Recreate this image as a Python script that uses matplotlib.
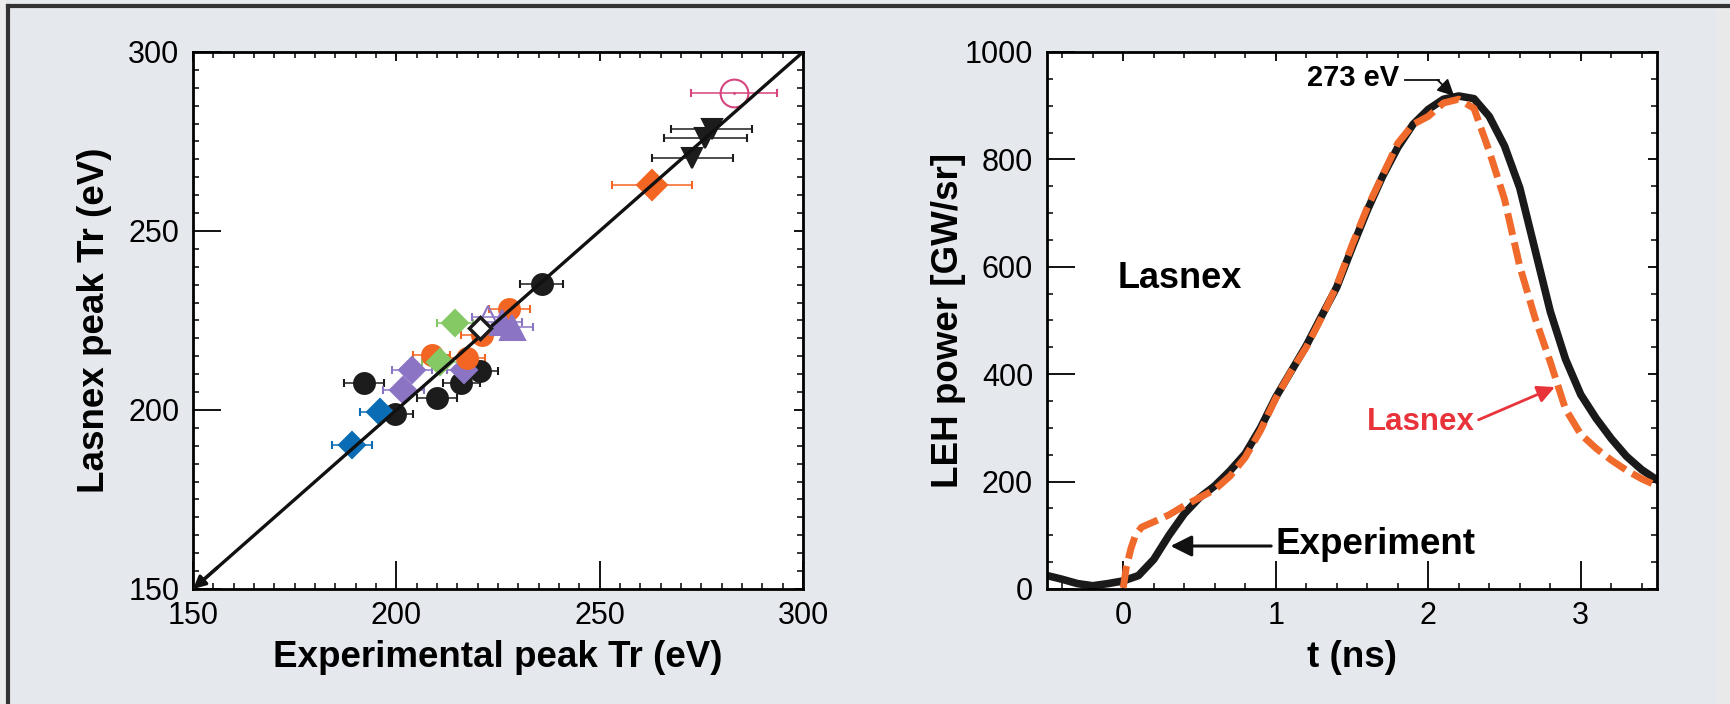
import matplotlib.pyplot as plt
from matplotlib.ticker import MultipleLocator
from matplotlib.lines import Line2D
from matplotlib.patches import Rectangle

plt.rcParams['font.family'] = ['Liberation Sans', 'DejaVu Sans']

# ---- left panel: peak Tr, experiment vs Lasnex (x error bars) ----
blk_circ_x = [235.7, 220.5, 216.0, 192.0, 210.0, 199.7]
blk_circ_y = [235.2, 211.0, 207.5, 207.5, 203.3, 199.0]
blk_circ_e = [5.2, 4.5, 4.5, 5.0, 4.9, 4.3]

blue_dia_x = [196.0, 189.0]
blue_dia_y = [199.5, 190.2]
blue_dia_e = [5.0, 4.9]

purp_dia_x = [203.8, 216.5, 201.7]
purp_dia_y = [211.2, 211.2, 205.6]
purp_dia_e = [5.0, 4.0, 5.0]

orng_circ_x = [227.8, 221.0, 208.7, 217.3]
orng_circ_y = [228.1, 221.0, 215.4, 214.4]
orng_circ_e = [5.0, 5.0, 4.5, 4.5]

grn_dia_x = [214.4, 210.7]
grn_dia_y = [224.2, 213.5]
grn_dia_e = [4.5, 4.5]

purp_tri_x = [226.0, 228.5]
purp_tri_y = [224.5, 223.3]
purp_tri_e = [5.0, 5.0]

purp_open_tri_x = [222.5]
purp_open_tri_y = [226.0]
purp_open_tri_e = [4.0]

open_dia_x = [220.6]
open_dia_y = [222.8]

orng_dia_x = [262.8]
orng_dia_y = [262.8]
orng_dia_e = [9.8]

blk_tri_x = [277.5, 276.0, 272.8]
blk_tri_y = [278.5, 276.0, 270.5]
blk_tri_e = [10.0, 10.2, 10.0]

pink_x = [283.0]
pink_y = [288.5]
pink_e = [10.5]

unity = [150, 300]

# ---- right panel: LEH power vs time ----
exp_t = [-0.5, -0.4, -0.3, -0.2, -0.1, 0.0, 0.1, 0.2, 0.3, 0.4, 0.5, 0.6, 0.7,
         0.8, 0.9, 1.0, 1.1, 1.2, 1.3, 1.4, 1.5, 1.6, 1.7, 1.8, 1.9, 2.0, 2.1,
         2.2, 2.3, 2.4, 2.5, 2.6, 2.7, 2.8, 2.9, 3.0, 3.1, 3.2, 3.3, 3.4, 3.5]
exp_p = [25, 18, 10, 6, 10, 15, 25, 55, 100, 140, 170, 192, 220,
         252, 300, 357, 405, 453, 508, 562, 635, 705, 768, 822, 865, 893, 912,
         918, 913, 880, 825, 747, 632, 517, 428, 362, 318, 280, 247, 222, 203]

lx_t = [0.0, 0.02, 0.05, 0.08, 0.12, 0.2, 0.3, 0.4, 0.5, 0.6, 0.7, 0.8, 0.9,
        1.0, 1.1, 1.2, 1.3, 1.4, 1.5, 1.6, 1.7, 1.8, 1.9, 2.0, 2.1, 2.2, 2.3,
        2.4, 2.5, 2.6, 2.7, 2.8, 2.9, 3.0, 3.1, 3.2, 3.3, 3.4, 3.5]
lx_p = [2, 40, 75, 100, 115, 125, 138, 155, 170, 185, 210, 245, 295,
        355, 405, 450, 505, 565, 640, 710, 770, 830, 865, 880, 905, 912, 895,
        815, 726, 601, 505, 423, 335, 288, 262, 240, 221, 205, 192]

fig = plt.figure(figsize=(17.3, 7.04), dpi=100, facecolor='#e5e8ed')
ax1 = fig.add_axes([0.1116, 0.1634, 0.3526, 0.7628])
ax2 = fig.add_axes([0.6052, 0.1634, 0.3526, 0.7628])


def pts(ax, x, y, e, color, marker, ms, mfc=None, z=3):
    ax.errorbar(x, y, xerr=e, fmt=marker, color=color, ecolor=color,
                mfc=color if mfc is None else mfc, mec=color, ms=ms, mew=1.5,
                elinewidth=1.1, capsize=3, capthick=1.1, zorder=z)


pts(ax1, blk_circ_x, blk_circ_y, blk_circ_e, '#1c1c1c', 'o', 15)
pts(ax1, blue_dia_x, blue_dia_y, blue_dia_e, '#0a6cb5', 'D', 13)
pts(ax1, purp_dia_x, purp_dia_y, purp_dia_e, '#8c74c4', 'D', 13)
pts(ax1, orng_circ_x, orng_circ_y, orng_circ_e, '#f26522', 'o', 15)
pts(ax1, grn_dia_x, grn_dia_y, grn_dia_e, '#84c964', 'D', 13)
pts(ax1, purp_open_tri_x, purp_open_tri_y, purp_open_tri_e, '#8c74c4', '^', 16, mfc='none')
pts(ax1, purp_tri_x, purp_tri_y, purp_tri_e, '#8c74c4', '^', 18)
pts(ax1, orng_dia_x, orng_dia_y, orng_dia_e, '#f26522', 'D', 15)
pts(ax1, blk_tri_x, blk_tri_y, blk_tri_e, '#1c1c1c', 'v', 14)
pts(ax1, pink_x, pink_y, pink_e, '#d6457f', 'o', 20, mfc='none')
ax1.plot(pink_x, pink_y, '.', color='#d6457f', ms=2, zorder=4)
ax1.plot(open_dia_x, open_dia_y, 'D', ms=11, mfc='white', mec='#1c1c1c', mew=2.5, zorder=6)

ax1.plot(unity, unity, color='#111111', lw=2.4, zorder=5)
ax1.annotate('', xy=(unity[0], unity[0]), xytext=(unity[0] + 6, unity[0] + 6),
             arrowprops=dict(arrowstyle='-|>', color='#111111', lw=2.4,
                             mutation_scale=18, shrinkA=0, shrinkB=0), zorder=5)

ax1.set_xlim(150, 300)
ax1.set_ylim(150, 300)
ax1.xaxis.set_major_locator(MultipleLocator(50))
ax1.yaxis.set_major_locator(MultipleLocator(50))
ax1.xaxis.set_minor_locator(MultipleLocator(5))
ax1.yaxis.set_minor_locator(MultipleLocator(5))
ax1.set_xlabel('Experimental peak Tr (eV)', fontsize=26.5, fontweight='bold')
ax1.set_ylabel('Lasnex peak Tr (eV)', fontsize=26.5, fontweight='bold')

# right panel
ax2.plot(exp_t, exp_p, color='#1a1a1a', lw=5.5, zorder=2)
ax2.plot(lx_t, lx_p, color='#f06a2c', lw=5, dashes=(3.2, 1.1), zorder=3)

ax2.set_xlim(-0.5, 3.5)
ax2.set_ylim(0, 1000)
ax2.xaxis.set_major_locator(MultipleLocator(1))
ax2.yaxis.set_major_locator(MultipleLocator(200))
ax2.xaxis.set_minor_locator(MultipleLocator(0.2))
ax2.yaxis.set_minor_locator(MultipleLocator(50))
ax2.set_xlabel('t (ns)', fontsize=26.5, fontweight='bold')
ax2.set_ylabel('LEH power [GW/sr]', fontsize=26.5, fontweight='bold')

ax2.text(1.51, 952, '273 eV', ha='center', va='center', fontsize=21, fontweight='bold')
ax2.plot([1.85, 2.07], [948, 948], color='#111111', lw=1.3)
ax2.annotate('', xy=(2.17, 918), xytext=(2.06, 948),
             arrowprops=dict(arrowstyle='-|>', color='#111111', lw=1.3,
                             mutation_scale=25, shrinkA=0, shrinkB=0))
ax2.text(0.372, 579, 'Lasnex', ha='center', va='center', fontsize=26, fontweight='bold')
ax2.text(1.0, 82, 'Experiment', ha='left', va='center', fontsize=26.5, fontweight='bold')
ax2.annotate('', xy=(0.31, 80), xytext=(0.97, 80),
             arrowprops=dict(arrowstyle='-|>', color='#111111', lw=2.2,
                             mutation_scale=32, shrinkA=0, shrinkB=0))
ax2.text(1.953, 310, 'Lasnex', ha='center', va='center', fontsize=22.5,
         fontweight='bold', color='#e8333a')
ax2.annotate('', xy=(2.83, 376), xytext=(2.33, 315),
             arrowprops=dict(arrowstyle='-|>', color='#e8333a', lw=2,
                             mutation_scale=26, shrinkA=0, shrinkB=0))

for ax in (ax1, ax2):
    ax.set_facecolor('white')
    for s in ax.spines.values():
        s.set_linewidth(2)
    ax.tick_params(which='major', direction='in', length=20, width=1.3,
                   top=True, right=True, labelsize=22)
    ax.tick_params(which='minor', direction='in', length=4.5, width=1.1,
                   top=True, right=True)
    ax.tick_params(axis='x', which='major', pad=9)
    ax.tick_params(axis='y', which='major', pad=10)
    ax.xaxis.label.set_va('center')
    ax.yaxis.label.set_va('center')
    ax.xaxis.set_label_coords(0.5, -0.127)
    ax.yaxis.set_label_coords(-0.161, 0.5)
    # short major ticks on top and right
    for t in ax.xaxis.get_major_ticks() + ax.yaxis.get_major_ticks():
        t.tick2line.set_markersize(6.5)

# frame around the figure
fig.add_artist(Rectangle((0.9925, 0), 0.0075, 0.99, transform=fig.transFigure,
                         color='#e9e9e9', lw=0))
fig.add_artist(Rectangle((0, 0), 0.0035, 1, transform=fig.transFigure,
                         color='#ececec', lw=0))
fig.add_artist(Line2D([0.0048, 0.0048], [0.0, 0.9915], transform=fig.transFigure,
                      color='#333333', lw=3))
fig.add_artist(Line2D([0.0048, 1.0], [0.9915, 0.9915], transform=fig.transFigure,
                      color='#333333', lw=3))

fig.savefig('out.png', dpi=100, facecolor=fig.get_facecolor())
